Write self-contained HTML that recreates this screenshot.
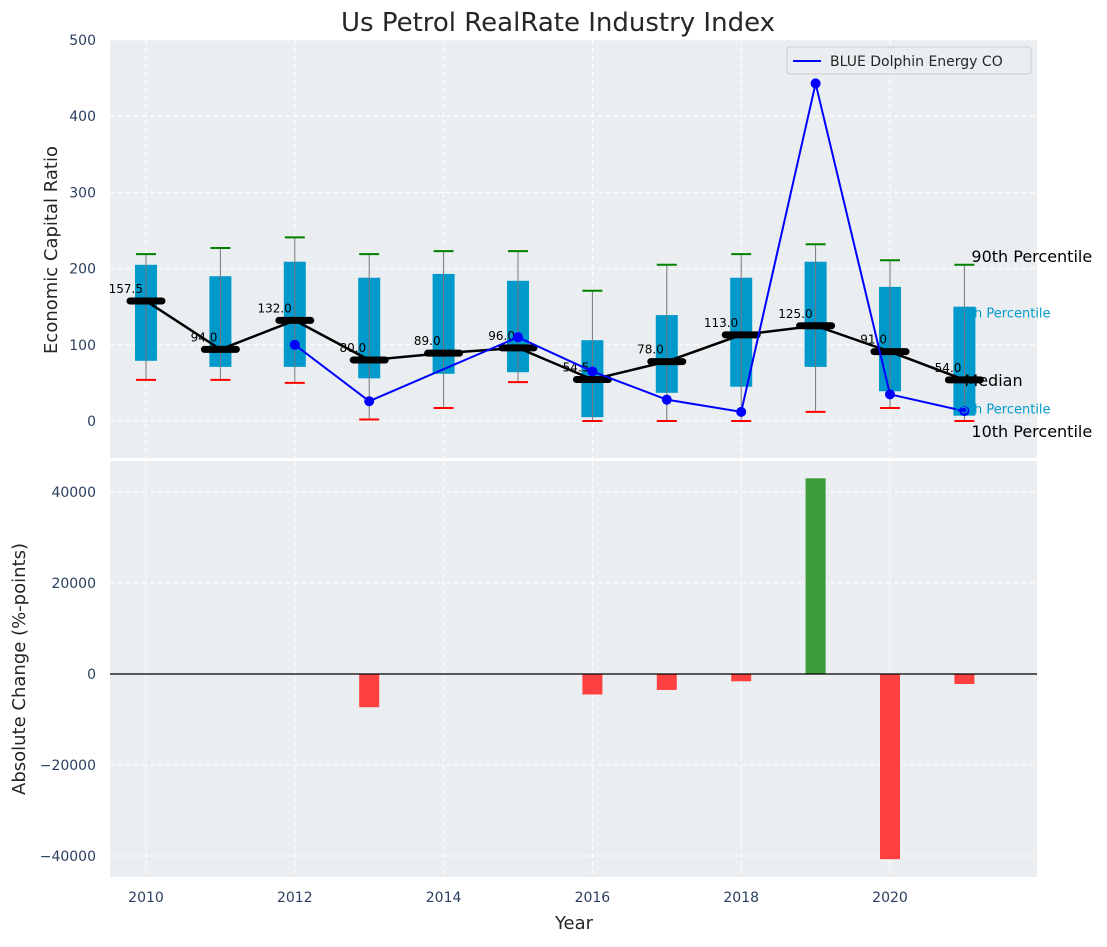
<!DOCTYPE html>
<html><head><meta charset="utf-8"><style>
body{margin:0;background:#fff;font-family:"Liberation Sans","DejaVu Sans",sans-serif}
svg text{font-family:"DejaVu Sans","Liberation Sans",sans-serif}
</style></head><body>
<svg id="chart" width="1107" height="942" xmlns="http://www.w3.org/2000/svg">
<text x="558" y="31" text-anchor="middle" font-size="26" fill="#262626">Us Petrol RealRate Industry Index</text>
<rect x="110" y="40" width="927" height="418" fill="#eaeef0"/>
<rect x="110" y="461" width="927" height="416" fill="#eaeef0"/>
<g id="gtop"></g><g id="gbot"></g>
<text x="57" y="250" transform="rotate(-90 57 250)" text-anchor="middle" font-size="18" fill="#262626">Economic Capital Ratio</text>
<text x="25" y="669" transform="rotate(-90 25 669)" text-anchor="middle" font-size="18" fill="#262626">Absolute Change (%-points)</text>
<text x="574" y="929" text-anchor="middle" font-size="18" fill="#262626">Year</text>
<g>
<rect x="787" y="47" width="244" height="27" rx="3" fill="#eaeef0" stroke="#ccc"/>
<line x1="793" y1="61" x2="821" y2="61" stroke="#0000ff" stroke-width="2"/>
<text x="830" y="66" font-size="14" fill="#262626">BLUE Dolphin Energy CO</text>
</g>
</svg>
<script>
const years=[2010,2011,2012,2013,2014,2015,2016,2017,2018,2019,2020,2021];
const p90=[219,227,241,219,223,223,171,205,219,232,211,205];
const q3=[205,190,209,188,193,184,106,139,188,209,176,150];
const q1=[79,71,71,56,62,64,5,37,45,71,39,7];
const p10=[54,54,50,2,17,51,0,0,0,12,17,0];
const medians=[157.5,94,132,80,89,96,54.5,78,113,125,91,54];
const company=[null,null,100,26,null,110,65,28,12,443,35,13];
const changes=[0,0,0,-7300,0,0,-4500,-3500,-1600,43000,-40700,-2200];
const yTicksTop=[0,100,200,300,400,500];
const yTicksBot=[-40000,-20000,0,20000,40000];
const xTicks=[2010,2012,2014,2016,2018,2020];
const NS="http://www.w3.org/2000/svg";
const X=y=>146+(y-2010)*74.4;
const YT=v=>421-v*0.762;
const YB=v=>674-v*0.00455;
function mk(parent,tag,attrs,text){const e=document.createElementNS(NS,tag);for(const k in attrs)e.setAttribute(k,attrs[k]);if(text!=null)e.textContent=text;parent.appendChild(e);return e;}
const gTop=document.getElementById('gtop'),gBot=document.getElementById('gbot');
yTicksTop.forEach(t=>{mk(gTop,'line',{x1:110,x2:1037,y1:YT(t),y2:YT(t),stroke:'#fff','stroke-dasharray':'5,3','stroke-width':1});
const e=mk(gTop,'text',{x:96,y:YT(t)+5,'text-anchor':'end','font-size':14,fill:'#2a3f5f'},t);

});
yTicksBot.forEach(t=>{mk(gBot,'line',{x1:110,x2:1037,y1:YB(t),y2:YB(t),stroke:'#fff','stroke-dasharray':'5,3','stroke-width':1});
const e=mk(gBot,'text',{x:96,y:YB(t)+5,'text-anchor':'end','font-size':14,fill:'#2a3f5f'},t<0?'\u2212'+(-t):t);

});
xTicks.forEach(t=>{mk(gTop,'line',{x1:X(t),x2:X(t),y1:40,y2:458,stroke:'#fff','stroke-dasharray':'5,3'});
mk(gBot,'line',{x1:X(t),x2:X(t),y1:461,y2:877,stroke:'#fff','stroke-dasharray':'5,3'});
const e=mk(gBot,'text',{x:X(t),y:902,'text-anchor':'middle','font-size':14,fill:'#2a3f5f'},t);

});
years.forEach((yr,i)=>{const x=X(yr);
const b=mk(gTop,'rect',{x:x-11,y:YT(q3[i]),width:22,height:YT(q1[i])-YT(q3[i]),fill:'#0099cc'});


mk(gTop,'line',{x1:x,x2:x,y1:YT(p90[i]),y2:YT(p10[i]),stroke:'#777','stroke-width':1});
mk(gTop,'line',{x1:x-10,x2:x+10,y1:YT(p90[i]),y2:YT(p90[i]),stroke:'green','stroke-width':2});
mk(gTop,'line',{x1:x-10,x2:x+10,y1:YT(p10[i]),y2:YT(p10[i]),stroke:'red','stroke-width':2});});
const ml=mk(gTop,'polyline',{points:years.map((y,i)=>X(y)+','+YT(medians[i])).join(' '),fill:'none',stroke:'#000','stroke-width':2.5});


years.forEach((yr,i)=>{const x=X(yr),y=YT(medians[i]);
const m=mk(gTop,'line',{x1:x-16,x2:x+16,y1:y,y2:y,stroke:'#000','stroke-width':7,'stroke-linecap':'round'});


const lt=mk(gTop,'text',{x:x-3,y:y-8,'text-anchor':'end','font-size':12,fill:'#000'},medians[i].toFixed(1));

});
let seg=[];years.forEach((y,i)=>{if(company[i]!=null)seg.push(X(y)+','+YT(company[i]));});
const cl=mk(gTop,'polyline',{points:seg.join(' '),fill:'none',stroke:'#0000ff','stroke-width':2});


years.forEach((y,i)=>{if(company[i]!=null){const c=mk(gTop,'circle',{cx:X(y),cy:YT(company[i]),r:5,fill:'#0000ff'});

}});
const li=years.length-1,lx=X(years[li]);
[[YT(p90[li])-3,'90th Percentile','#000',16,lx+7],[YT(q3[li])+11,'75th Percentile','#0099cc',13,lx-12],[YT(medians[li])+6,'Median','#000',16,lx],[YT(q1[li])-2,'25th Percentile','#0099cc',13,lx-12],[YT(p10[li])+16,'10th Percentile','#000',16,lx+7]].forEach(a=>{
const t=mk(gTop,'text',{x:a[4],y:a[0],'font-size':a[3],fill:a[2]},a[1]);

});
years.forEach((yr,i)=>{const v=changes[i];if(!v)return;const y0=YB(0),y1=YB(v);
const r=mk(gBot,'rect',{x:X(yr)-10,y:Math.min(y0,y1),width:20,height:Math.abs(y1-y0),fill:v>0?'#3a9c3a':'#ff4040'});

});
mk(gBot,'line',{x1:110,x2:1037,y1:YB(0),y2:YB(0),stroke:'#000','stroke-width':1.2});
</script>
</body></html>
